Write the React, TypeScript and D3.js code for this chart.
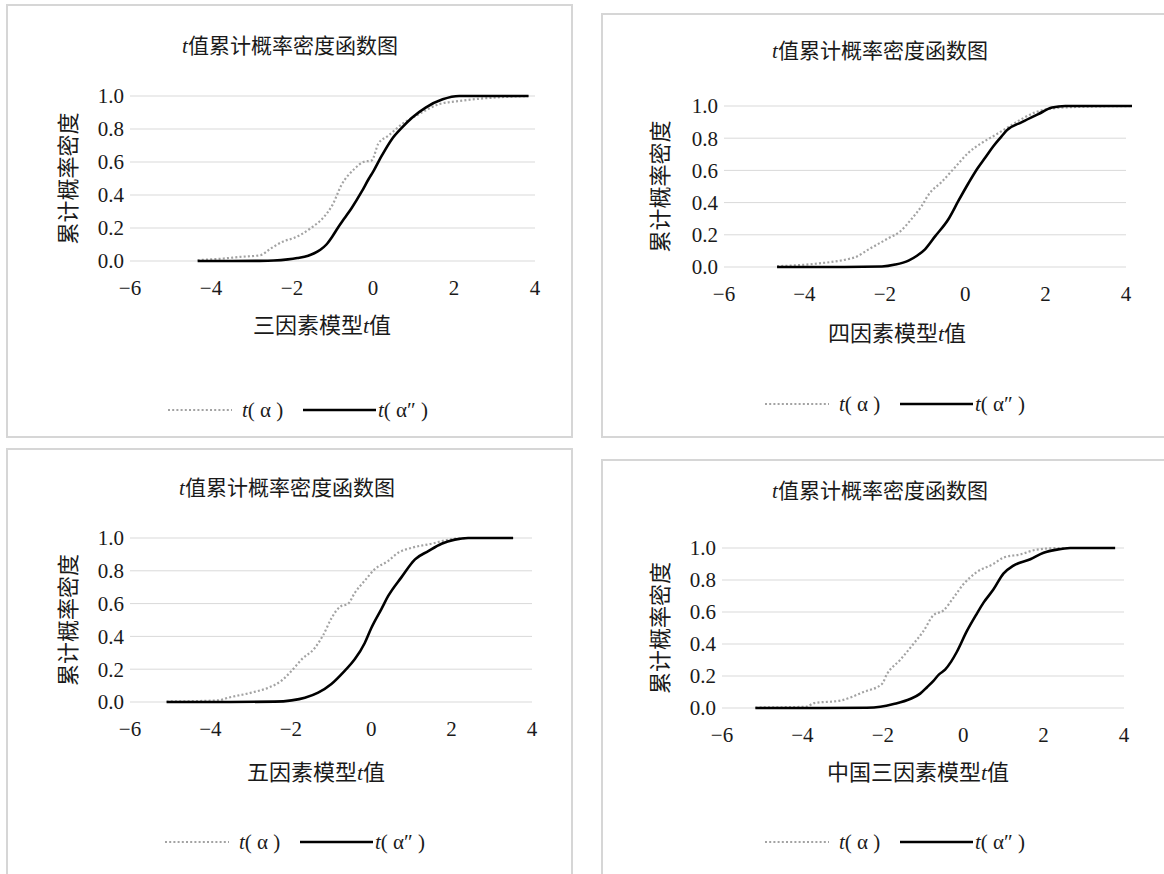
import React, { useEffect, useRef } from 'react';
import * as d3 from 'd3';

// cumulative distribution points, [t value, cumulative share]
const threeAlpha = [[-4.33,0.005],[-3.7,0.015],[-3.28,0.025],[-2.78,0.035],[-2.53,0.075],[-2.2,0.12],[-1.95,0.14],[-1.53,0.2],[-1.2,0.27],[-1.0,0.34],[-0.78,0.46],[-0.45,0.56],[-0.24,0.6],[-0.03,0.61],[0.13,0.71],[0.38,0.76],[0.72,0.83],[1.13,0.89],[1.63,0.95],[2.13,0.97],[2.97,0.99],[3.84,1.0]];
const threeAlphaPP = [[-4.33,0],[-3.5,0],[-2.8,0.001],[-2.45,0.003],[-2.1,0.01],[-1.87,0.018],[-1.6,0.032],[-1.45,0.047],[-1.3,0.068],[-1.15,0.1],[-1.0,0.15],[-0.87,0.2],[-0.7,0.26],[-0.53,0.32],[-0.28,0.42],[-0.1,0.5],[0,0.54],[0.22,0.64],[0.47,0.74],[0.72,0.81],[0.97,0.87],[1.3,0.93],[1.72,0.98],[2.13,1.0],[3,1],[3.84,1]];

const fourAlpha = [[-4.68,0.005],[-3.73,0.02],[-2.9,0.05],[-2.74,0.06],[-2.4,0.11],[-1.9,0.18],[-1.62,0.22],[-1.33,0.30],[-1.08,0.38],[-0.91,0.45],[-0.58,0.53],[-0.25,0.62],[0.08,0.71],[0.41,0.77],[0.75,0.82],[1.08,0.87],[1.41,0.92],[1.74,0.96],[2.16,0.985],[2.9,0.995],[4.15,1.0]];
const fourAlphaPP = [[-4.68,0],[-3,0],[-2.07,0.003],[-1.74,0.015],[-1.41,0.04],[-1.2,0.07],[-1.0,0.11],[-0.75,0.19],[-0.41,0.30],[-0.17,0.41],[0.08,0.52],[0.3,0.61],[0.5,0.68],[0.7,0.75],[0.9,0.81],[1.04,0.85],[1.41,0.90],[1.82,0.95],[2.16,0.99],[2.49,1.0],[4.15,1.0]];

const fiveAlpha = [[-5.09,0.003],[-3.8,0.01],[-3.56,0.026],[-2.98,0.057],[-2.56,0.087],[-2.23,0.13],[-1.98,0.19],[-1.73,0.26],[-1.4,0.33],[-1.19,0.41],[-0.99,0.51],[-0.78,0.58],[-0.57,0.6],[-0.41,0.665],[-0.16,0.74],[0.09,0.81],[0.42,0.86],[0.67,0.91],[1.0,0.94],[1.5,0.965],[1.92,0.99],[2.41,1.0],[3.53,1.0]];
const fiveAlphaPP = [[-5.09,0],[-3.5,0],[-2.4,0.002],[-1.98,0.01],[-1.65,0.026],[-1.32,0.057],[-0.99,0.11],[-0.66,0.19],[-0.41,0.26],[-0.16,0.36],[0,0.45],[0.26,0.57],[0.42,0.645],[0.75,0.76],[1.09,0.87],[1.42,0.92],[1.75,0.965],[2.08,0.99],[2.41,1.0],[3.53,1.0]];

const chinaAlpha = [[-5.17,0.003],[-3.89,0.008],[-3.72,0.03],[-3.06,0.046],[-2.48,0.1],[-2.02,0.15],[-1.9,0.21],[-1.57,0.3],[-1.24,0.4],[-0.99,0.48],[-0.74,0.58],[-0.49,0.61],[-0.24,0.69],[0.01,0.775],[0.34,0.85],[0.75,0.9],[1.0,0.94],[1.42,0.96],[1.83,0.99],[2.41,1.0],[3.78,1.0]];
const chinaAlphaPP = [[-5.17,0],[-3.5,0],[-2.4,0.002],[-2.06,0.008],[-1.73,0.025],[-1.32,0.056],[-1.07,0.09],[-0.9,0.13],[-0.74,0.17],[-0.6,0.21],[-0.45,0.24],[-0.3,0.29],[-0.16,0.35],[0.09,0.48],[0.34,0.59],[0.51,0.66],[0.75,0.74],[1.0,0.84],[1.25,0.89],[1.67,0.93],[2.0,0.97],[2.33,0.99],[2.66,1.0],[3.78,1.0]];

const xTicks = [-6, -4, -2, 0, 2, 4];
const yTicks = [0, 0.2, 0.4, 0.6, 0.8, 1.0];
const titleText = '值累计概率密度函数图';
const yTitle = '累计概率密度';
const xTitles = ['三因素模型', '四因素模型', '五因素模型', '中国三因素模型'];

const SERIF = "'Liberation Serif', 'DejaVu Serif', serif";
const CJK = "'Noto Sans CJK SC', sans-serif";

// layout of the four panels
const panels = [
    { box: [7, 5, 565, 432], x0: 130, x1: 535, yTop: 96, yBot: 261, titleX: 290, titleY: 53, xTitleX: 322, xTitleY: 333, yTitleX: 68, legendX: 168, legendY: 410, a: threeAlpha, b: threeAlphaPP },
    { box: [602, 14, 570, 423], x0: 724, x1: 1126, yTop: 106, yBot: 267, titleX: 880, titleY: 58, xTitleX: 897, xTitleY: 341, yTitleX: 660, legendX: 765, legendY: 404, a: fourAlpha, b: fourAlphaPP },
    { box: [7, 449, 565, 440], x0: 130, x1: 532, yTop: 538, yBot: 702, titleX: 287, titleY: 495, xTitleX: 316, xTitleY: 780, yTitleX: 68, legendX: 165, legendY: 842, a: fiveAlpha, b: fiveAlphaPP },
    { box: [602, 460, 570, 430], x0: 722, x1: 1124, yTop: 548, yBot: 708, titleX: 880, titleY: 498, xTitleX: 918, xTitleY: 780, yTitleX: 660, legendX: 765, legendY: 842, a: chinaAlpha, b: chinaAlphaPP },
];

export default function App() {
    const ref = useRef(null);

    useEffect(() => {
        const svg = d3.select(ref.current);
        svg.selectAll('*').remove();

        svg.append('rect').attr('width', 1164).attr('height', 874).attr('fill', '#fff');

        panels.forEach((p, i) => {
            const g = svg.append('g');

            g.append('rect')
                .attr('x', p.box[0]).attr('y', p.box[1])
                .attr('width', p.box[2]).attr('height', p.box[3])
                .attr('fill', '#fff')
                .attr('stroke', '#d6d6d6')
                .attr('stroke-width', 2);

            const x = d3.scaleLinear().domain([-6, 4]).range([p.x0, p.x1]);
            const y = d3.scaleLinear().domain([0, 1]).range([p.yBot, p.yTop]);

            // gridlines
            g.selectAll('.grid')
                .data(yTicks)
                .enter()
                .append('line')
                    .attr('x1', p.x0).attr('x2', p.x1)
                    .attr('y1', d => y(d)).attr('y2', d => y(d))
                    .attr('stroke', '#d9d9d9')
                    .attr('stroke-width', 1);

            // y tick labels
            g.selectAll('.ylab')
                .data(yTicks)
                .enter()
                .append('text')
                    .attr('x', p.x0 - 6)
                    .attr('y', d => y(d))
                    .attr('dy', '0.35em')
                    .attr('text-anchor', 'end')
                    .style('font-family', SERIF)
                    .style('font-size', '21px')
                    .attr('fill', '#1a1a1a')
                    .text(d => d3.format('.1f')(d));

            // x tick labels
            g.selectAll('.xlab')
                .data(xTicks)
                .enter()
                .append('text')
                    .attr('x', d => x(d))
                    .attr('y', p.yBot + 34)
                    .attr('text-anchor', 'middle')
                    .style('font-family', SERIF)
                    .style('font-size', '21px')
                    .attr('fill', '#1a1a1a')
                    .text(d => (d < 0 ? '\u2212' + Math.abs(d) : String(d)));

            // title
            const title = g.append('text')
                .attr('x', p.titleX).attr('y', p.titleY)
                .attr('text-anchor', 'middle')
                .style('font-size', '21px')
                .attr('fill', '#1a1a1a');
            title.append('tspan').style('font-family', SERIF).style('font-style', 'italic').text('t');
            title.append('tspan').style('font-family', CJK).text(titleText);

            // x axis title
            const xt = g.append('text')
                .attr('x', p.xTitleX).attr('y', p.xTitleY)
                .attr('text-anchor', 'middle')
                .style('font-size', '22px')
                .attr('fill', '#1a1a1a');
            xt.append('tspan').style('font-family', CJK).text(xTitles[i]);
            xt.append('tspan').style('font-family', SERIF).style('font-style', 'italic').text('t');
            xt.append('tspan').style('font-family', CJK).text('值');

            // y axis title
            g.append('text')
                .attr('transform', 'translate(' + p.yTitleX + ',' + (p.yTop + p.yBot) / 2 + ') rotate(-90)')
                .attr('text-anchor', 'middle')
                .attr('dy', '0.35em')
                .style('font-family', CJK)
                .style('font-size', '22px')
                .attr('fill', '#1a1a1a')
                .text(yTitle);

            const line = d3.line()
                .x(d => x(d[0]))
                .y(d => y(d[1]))
                .curve(d3.curveMonotoneX);

            g.append('path')
                .datum(p.a)
                .attr('fill', 'none')
                .attr('stroke', '#a3a3a3')
                .attr('stroke-width', 2.2)
                .attr('stroke-dasharray', '2,2.2')
                .attr('d', line);

            g.append('path')
                .datum(p.b)
                .attr('fill', 'none')
                .attr('stroke', '#000')
                .attr('stroke-width', 2.6)
                .attr('d', line);

            // legend
            const lx = p.legendX, ly = p.legendY;
            g.append('line')
                .attr('x1', lx).attr('x2', lx + 64)
                .attr('y1', ly).attr('y2', ly)
                .attr('stroke', '#a3a3a3')
                .attr('stroke-width', 2.2)
                .attr('stroke-dasharray', '2,2.2');
            const t1 = g.append('text')
                .attr('x', lx + 74).attr('y', ly + 7)
                .style('font-family', SERIF)
                .style('font-size', '21px')
                .attr('fill', '#1a1a1a');
            t1.append('tspan').style('font-style', 'italic').text('t');
            t1.append('tspan').text('( \u03b1 )');
            g.append('line')
                .attr('x1', lx + 135).attr('x2', lx + 208)
                .attr('y1', ly).attr('y2', ly)
                .attr('stroke', '#000')
                .attr('stroke-width', 2.6);
            const t2 = g.append('text')
                .attr('x', lx + 210).attr('y', ly + 7)
                .style('font-family', SERIF)
                .style('font-size', '21px')
                .attr('fill', '#1a1a1a');
            t2.append('tspan').style('font-style', 'italic').text('t');
            t2.append('tspan').text('( \u03b1\u2033 )');
        });
    }, []);

    return (
        <svg ref={ref} width={1164} height={874}
            style={{ position: 'absolute', left: 0, top: 0, display: 'block' }} />
    );
}
